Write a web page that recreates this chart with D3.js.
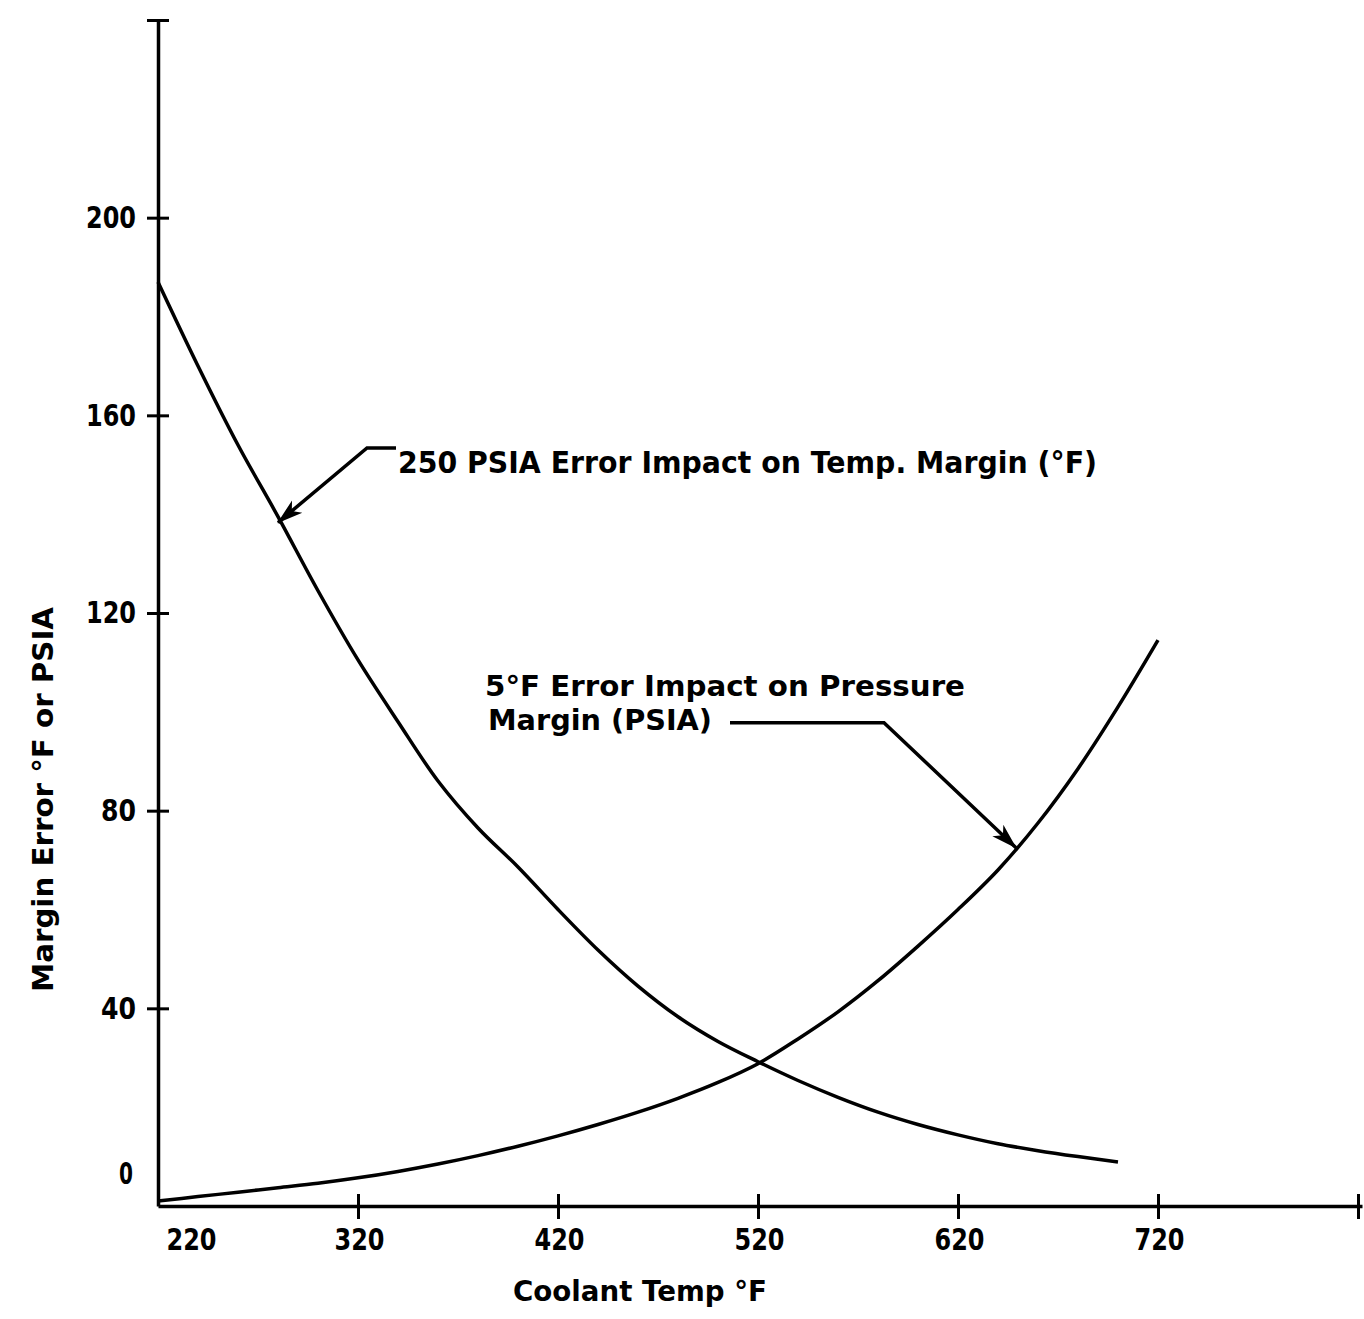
<!DOCTYPE html>
<html>
<head>
<meta charset="utf-8">
<script src="https://cdn.jsdelivr.net/npm/d3@7"></script>
<style>
body { margin: 0; background: #fff; }
text { font-family: "DejaVu Sans", sans-serif; font-weight: bold; fill: #000; }
</style>
</head>
<body>
<svg id="chart" width="1364" height="1319"></svg>
<script>
// coolant temperature, deg F
var coolantTemps = [220, 240, 260, 280, 300, 320, 340, 360, 380, 400, 420, 440, 460,
	480, 500, 520, 540, 560, 580, 600, 620, 640, 660, 680, 700, 720];
// 250 PSIA error impact on temp. margin (deg F), curve stops at 700
var tempMargin = [187, 170, 154, 139.5, 124.5, 110.5, 98, 86, 76.5, 68.6, 60, 51.8, 44.5,
	38.3, 33.3, 29.2, 25.4, 22, 19, 16.5, 14.4, 12.6, 11.2, 10, 8.9];
// 5 deg F error impact on pressure margin (PSIA)
var pressMargin = [1, 1.9, 2.8, 3.7, 4.6, 5.7, 7, 8.5, 10.2, 12.1, 14.2, 16.5, 19, 21.8,
	25, 28.8, 33.8, 39.3, 45.6, 52.6, 60, 68, 77.5, 88.5, 101, 114.5];

var xTicks = [220, 320, 420, 520, 620, 720, 820];
var yTicks = [0, 40, 80, 120, 160, 200, 240];

var svg = d3.select("#chart");

var x = d3.scaleLinear().domain([220, 822]).range([158, 1362]);
var y = d3.scaleLinear().domain([0, 240]).range([1206, 20]);

// arrow head
svg.append("defs").append("marker")
	.attr("id", "head")
	.attr("markerUnits", "userSpaceOnUse")
	.attr("viewBox", "0 0 26 18")
	.attr("refX", 25).attr("refY", 9)
	.attr("markerWidth", 26).attr("markerHeight", 18)
	.attr("orient", "auto")
	.append("path")
	.attr("d", "M0,1 L26,9 L0,17 L7,9 Z")
	.attr("fill", "#000");

// x axis
var xAxis = svg.append("g")
	.attr("transform", "translate(0," + y(0) + ")")
	.call(d3.axisBottom(x).tickValues(xTicks).tickSizeOuter(0)
		.tickFormat(function(d) { return d == 820 ? "" : d; }));
xAxis.select(".domain").attr("stroke-width", 3.5);
xAxis.selectAll(".tick line")
	.attr("y1", -12).attr("y2", 13)
	.attr("stroke-width", 3)
	.attr("display", function(d) { return d == 220 ? "none" : null; });
xAxis.selectAll(".tick text")
	.attr("y", 22)
	.attr("x", function(d) { return d == 220 ? 33 : 1; })
	.style("font-size", "31px")
	.attr("textLength", 50)
	.attr("lengthAdjust", "spacingAndGlyphs");

// y axis
var yAxis = svg.append("g")
	.attr("transform", "translate(" + x(220) + ",0)")
	.call(d3.axisLeft(y).tickValues(yTicks).tickSizeOuter(0)
		.tickFormat(function(d) { return d == 240 ? "" : d; }));
yAxis.select(".domain").attr("stroke-width", 3.5);
yAxis.selectAll(".tick line")
	.attr("x1", -11).attr("x2", 11)
	.attr("stroke-width", 3)
	.attr("display", function(d) { return d == 0 ? "none" : null; });
yAxis.selectAll(".tick text")
	.attr("x", function(d) { return d == 0 ? -25 : -22; })
	.attr("y", function(d) { return d == 0 ? -32 : 0; })
	.style("font-size", "31px")
	.attr("textLength", function(d) { return String(d).length == 3 ? 50 : (String(d).length == 2 ? 35 : 14); })
	.attr("lengthAdjust", "spacingAndGlyphs");
svg.selectAll(".tick text").attr("font-family", null).attr("font-size", null);

// curves
var line = d3.line().curve(d3.curveCatmullRom.alpha(0.5));

svg.append("path")
	.datum(tempMargin.map(function(v, i) { return [x(coolantTemps[i]), y(v)]; }))
	.attr("d", line)
	.attr("fill", "none").attr("stroke", "#000").attr("stroke-width", 3.5);

svg.append("path")
	.datum(pressMargin.map(function(v, i) { return [x(coolantTemps[i]), y(v)]; }))
	.attr("d", line)
	.attr("fill", "none").attr("stroke", "#000").attr("stroke-width", 3.5);

// annotation 1
svg.append("path")
	.attr("d", d3.line()([[x(339), y(153.4)], [x(324.5), y(153.4)], [x(280), y(138.3)]]))
	.attr("fill", "none").attr("stroke", "#000").attr("stroke-width", 3.5)
	.attr("marker-end", "url(#head)");
svg.append("text")
	.attr("x", x(340)).attr("y", y(148.4))
	.style("font-size", "30px")
	.attr("textLength", 699)
	.attr("lengthAdjust", "spacingAndGlyphs")
	.text("250 PSIA Error Impact on Temp. Margin (°F)");

// annotation 2
svg.append("text")
	.attr("x", x(383.5)).attr("y", y(103.2))
	.style("font-size", "29px")
	.attr("textLength", 480)
	.attr("lengthAdjust", "spacingAndGlyphs")
	.text("5°F Error Impact on Pressure");
svg.append("text")
	.attr("x", x(385)).attr("y", y(96.3))
	.style("font-size", "29px")
	.attr("textLength", 224)
	.attr("lengthAdjust", "spacingAndGlyphs")
	.text("Margin (PSIA)");
svg.append("path")
	.attr("d", d3.line()([[x(506), y(97.8)], [x(583), y(97.8)], [x(649), y(72.5)]]))
	.attr("fill", "none").attr("stroke", "#000").attr("stroke-width", 3.5)
	.attr("marker-end", "url(#head)");

// axis titles
svg.append("text")
	.attr("x", 513).attr("y", 1301)
	.style("font-size", "28px")
	.attr("textLength", 254)
	.attr("lengthAdjust", "spacingAndGlyphs")
	.text("Coolant Temp °F");

svg.append("text")
	.attr("transform", "translate(53,992)rotate(-90)")
	.style("font-size", "28px")
	.attr("textLength", 385)
	.attr("lengthAdjust", "spacingAndGlyphs")
	.text("Margin Error °F or PSIA");
</script>
</body>
</html>
